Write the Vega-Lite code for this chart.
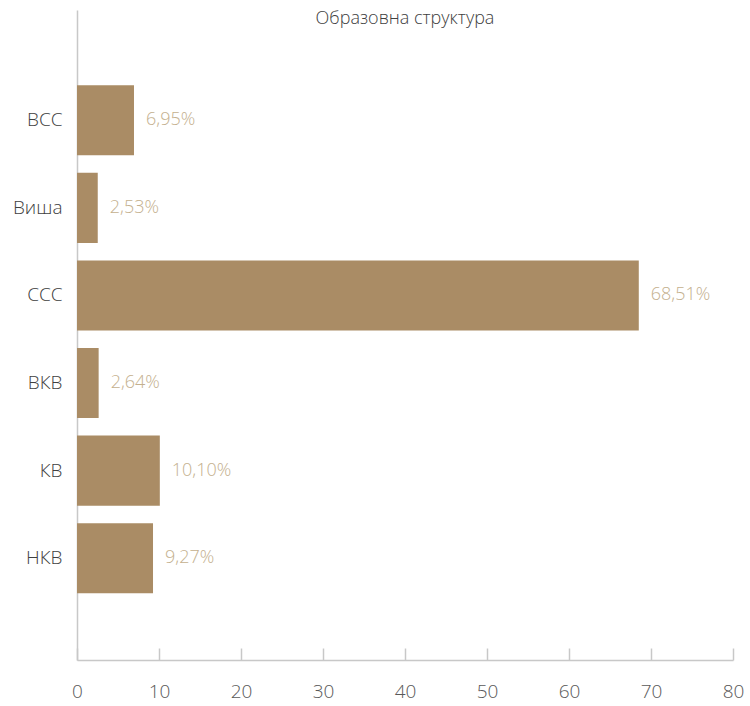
{
  "$schema": "https://vega.github.io/schema/vega-lite/v6.json",
  "autosize": "none",
  "width": 656,
  "height": 650,
  "padding": {"left": 77, "top": 10, "right": 17, "bottom": 46},
  "background": "white",
  "title": {
    "text": "Образовна структура",
    "anchor": "middle",
    "frame": "group",
    "offset": -18,
    "font": "Open Sans",
    "fontSize": 18,
    "fontWeight": 300,
    "color": "#404040"
  },
  "data": {
    "values": [
      {"cat": "ВСС", "value": 6.95, "label": "6,95%"},
      {"cat": "Виша", "value": 2.53, "label": "2,53%"},
      {"cat": "ССС", "value": 68.51, "label": "68,51%"},
      {"cat": "ВКВ", "value": 2.64, "label": "2,64%"},
      {"cat": "КВ", "value": 10.10, "label": "10,10%"},
      {"cat": "НКВ", "value": 9.27, "label": "9,27%"}
    ]
  },
  "encoding": {
    "y": {
      "field": "cat",
      "type": "nominal",
      "sort": null,
      "scale": {"paddingInner": 0.2, "paddingOuter": 0.81, "align": 0.53},
      "axis": {
        "title": null,
        "ticks": false,
        "domainColor": "#c8c8c8",
        "domainWidth": 1.5,
        "labelFont": "Open Sans",
        "labelFontWeight": 300,
        "labelFontSize": 19,
        "labelColor": "#404040",
        "labelPadding": 15
      }
    },
    "x": {
      "field": "value",
      "type": "quantitative",
      "scale": {"domain": [0, 80], "nice": false},
      "axis": {
        "title": null,
        "grid": false,
        "values": [0, 10, 20, 30, 40, 50, 60, 70, 80],
        "tickSize": -12,
        "tickColor": "#c8c8c8",
        "tickWidth": 1.5,
        "domainColor": "#c8c8c8",
        "domainWidth": 1.5,
        "labelFlush": false,
        "labelOverlap": false,
        "labelFont": "Open Sans",
        "labelFontWeight": 300,
        "labelFontSize": 19,
        "labelColor": "#595959",
        "labelPadding": 34
      }
    }
  },
  "layer": [
    {"mark": {"type": "bar", "color": "#aa8c65"}},
    {
      "mark": {
        "type": "text",
        "align": "left",
        "baseline": "middle",
        "dx": 12,
        "font": "Open Sans",
        "fontWeight": 300,
        "fontSize": 18,
        "color": "#c4b08e"
      },
      "encoding": {"text": {"field": "label"}}
    }
  ],
  "config": {"view": {"stroke": null}}
}
